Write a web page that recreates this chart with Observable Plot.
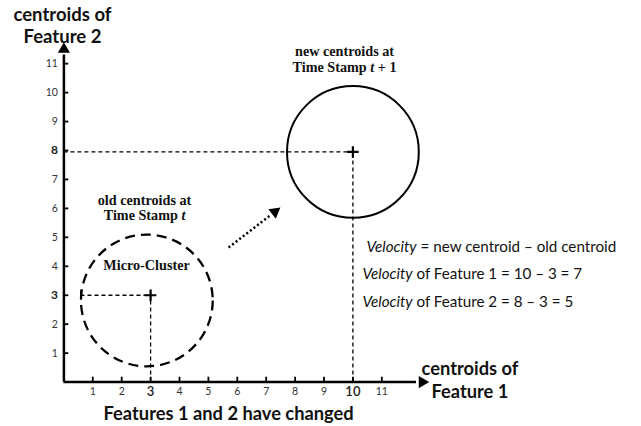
<!DOCTYPE html>
<html>
<head>
<meta charset="utf-8">
<script src="https://cdn.jsdelivr.net/npm/d3@7"></script>
<script src="https://cdn.jsdelivr.net/npm/@observablehq/plot@0.6"></script>
<style>
  html, body { margin: 0; padding: 0; background: #fff; }
</style>
</head>
<body>
<div id="chart"></div>
<script>
// ---- data ----
const xTicks = [1, 2, 3, 4, 5, 6, 7, 8, 9, 10, 11];
const yTicks = [1, 2, 3, 4, 5, 6, 7, 8, 9, 10, 11];
const highlightX = [3, 10];
const highlightY = [3, 8];
const oldCentroid = [{x: 3, y: 3}];
const newCentroid = [{x: 10, y: 7.95}];
const clusterNames = ["old", "new"];
const clusterCx = [2.87, 10];
const clusterCy = [2.82, 7.95];
const clusterRadius = [2.28, 2.28];
const velocityText = [
  "Velocity = new centroid – old centroid",
  "Velocity of Feature 1 = 10 – 3 = 7",
  "Velocity of Feature 2 = 8 – 3 = 5"
];
const velocityX = [10.47, 10.33, 10.33];
const velocityY = [4.66, 3.72, 2.76];
const axisEndX = 12.4;
const axisEndY = 11.5;
const moveFrom = {x: 5.7, y: 4.65};
const moveTo = {x: 7.3, y: 5.88};

// ---- derived tables ----
const clusters = clusterNames.map((n, i) => ({name: n, cx: clusterCx[i], cy: clusterCy[i], radius: clusterRadius[i]}));
const velocity = velocityText.map((t, i) => ({text: t, x: velocityX[i], y: velocityY[i]}));
const xTickData = xTicks.map(v => ({v, hi: highlightX.includes(v)}));
const yTickData = yTicks.map(v => ({v, hi: highlightY.includes(v)}));
const oldLeft = clusterCx[0] - clusterRadius[0];

const SANS = "Lato, 'Open Sans', sans-serif";
const SERIF = "'Liberation Serif', 'DejaVu Serif', serif";
const arrowAngle = Math.atan2((moveTo.x - moveFrom.x) * 28.9, (moveTo.y - moveFrom.y) * 28.95) * 180 / Math.PI;

const plot = Plot.plot({
  width: 641,
  height: 426,
  x: {domain: [0, 20], range: [63.4, 63.4 + 20 * 28.9], axis: null},
  y: {domain: [0, 13], range: [381.6, 381.6 - 13 * 28.95], axis: null},
  r: {type: "linear", domain: [0, 1], range: [0, 28.9]},
  style: {background: "#fff", overflow: "visible"},
  marks: [
    // dashed guide lines
    Plot.ruleY(newCentroid, {y: "y", x1: 0, x2: "x", stroke: "#000", strokeWidth: 1.3, strokeDasharray: "4,3"}),
    Plot.ruleX(newCentroid, {x: "x", y1: 0, y2: "y", stroke: "#000", strokeWidth: 1.3, strokeDasharray: "4,3"}),
    Plot.ruleY(oldCentroid, {y: "y", x1: oldLeft, x2: "x", stroke: "#000", strokeWidth: 1.3, strokeDasharray: "4,3"}),
    Plot.ruleX(oldCentroid, {x: "x", y1: 0, y2: "y", stroke: "#000", strokeWidth: 1.3, strokeDasharray: "4,3"}),
    Plot.ruleX(oldCentroid, {x: oldLeft, y1: d => d.y - 0.17, y2: d => d.y + 0.17, stroke: "#000", strokeWidth: 1.6}),
    // cluster circles
    Plot.dot(clusters.filter(d => d.name === "old"), {x: "cx", y: "cy", r: "radius", stroke: "#000", strokeWidth: 2.3, strokeDasharray: "10,6", fill: "none"}),
    Plot.dot(clusters.filter(d => d.name === "new"), {x: "cx", y: "cy", r: "radius", stroke: "#000", strokeWidth: 2, fill: "none"}),
    // centroid crosses
    Plot.dot(oldCentroid.concat(newCentroid), {x: "x", y: "y", symbol: "plus", r: 3.8, stroke: "#000", strokeWidth: 2.2}),
    // axes
    Plot.ruleY([0], {x1: 0, x2: axisEndX - 0.2, stroke: "#000", strokeWidth: 2.5}),
    Plot.ruleX([0], {y1: 0, y2: axisEndY - 0.2, stroke: "#000", strokeWidth: 2.5}),
    Plot.dot([{x: axisEndX, y: 0}], {x: "x", y: "y", symbol: "triangle", r: 4.5, fill: "#000", rotate: 90}),
    Plot.dot([{x: 0, y: axisEndY}], {x: "x", y: "y", symbol: "triangle", r: 4.5, fill: "#000"}),
    // ticks (inward)
    Plot.ruleX(xTickData, {x: "v", y1: 0, y2: 0.17, stroke: "#000", strokeWidth: 1.8}),
    Plot.ruleY(yTickData, {y: "v", x1: 0, x2: 0.17, stroke: "#000", strokeWidth: 1.8}),
    // tick labels
    Plot.text(xTickData.filter(d => !d.hi), {x: "v", y: 0, text: d => String(d.v), dy: 10, fontSize: 10.5, fill: "#333", fontFamily: SANS}),
    Plot.text(xTickData.filter(d => d.hi), {x: "v", y: 0, text: d => String(d.v), dy: 10, fontSize: 13, fontWeight: 600, fill: "#222", fontFamily: SANS}),
    Plot.text(yTickData.filter(d => !d.hi), {x: 0, y: "v", text: d => String(d.v), dx: -6, textAnchor: "end", fontSize: 10.5, fill: "#333", fontFamily: SANS}),
    Plot.text(yTickData.filter(d => d.hi), {x: 0, y: "v", text: d => String(d.v), dx: -6, textAnchor: "end", fontSize: 12, fontWeight: 700, fill: "#222", fontFamily: SANS}),
    // movement arrow
    Plot.link([{x1: moveFrom.x, y1: moveFrom.y, x2: moveTo.x - 0.12, y2: moveTo.y - 0.09}], {x1: "x1", y1: "y1", x2: "x2", y2: "y2", stroke: "#000", strokeWidth: 2.5, strokeDasharray: "2,2.5"}),
    Plot.dot([moveTo], {x: "x", y: "y", symbol: "triangle", r: 4.5, fill: "#000", rotate: arrowAngle}),
    // axis titles
    Plot.text(["centroids of\nFeature 2"], {x: -0.05, y: 12.33, fontSize: 18.5, fontWeight: "bold", fontFamily: SANS, fill: "#111", lineHeight: 1.2}),
    Plot.text(["centroids of\nFeature 1"], {x: 14.05, y: 0.1, fontSize: 18.3, fontWeight: "bold", fontFamily: SANS, fill: "#111", lineHeight: 1.22}),
    Plot.text(["Features 1 and 2 have changed"], {x: 5.7, y: -1.1, fontSize: 18.3, fontWeight: "bold", fontFamily: SANS, fill: "#111"}),
    // annotations
    Plot.text(["new centroids at\nTime Stamp t + 1"], {x: 9.71, y: 11.17, fontSize: 14.2, fontWeight: "bold", fontFamily: SERIF, fill: "#111", lineHeight: 1.15}),
    Plot.text(["old centroids at\nTime Stamp t"], {x: 2.79, y: 6.02, fontSize: 14.2, fontWeight: "bold", fontFamily: SERIF, fill: "#111", lineHeight: 1.05}),
    Plot.text(["Micro-Cluster"], {x: 2.86, y: 4.04, fontSize: 14.2, fontWeight: "bold", fontFamily: SERIF, fill: "#111"}),
    Plot.text(velocity, {x: "x", y: "y", text: "text", textAnchor: "start", fontSize: 15.2, fontFamily: SANS, fill: "#111"})
  ]
});

// italicize "Velocity" and "t"
d3.select(plot).selectAll("text, tspan").each(function() {
  const el = this;
  if (el.childElementCount > 0) return;
  const s = el.textContent;
  if (s.startsWith("Velocity")) {
    el.textContent = "";
    d3.select(el).append("tspan").attr("font-style", "italic").text("Velocity");
    d3.select(el).append("tspan").text(s.slice("Velocity".length));
  } else if (s.startsWith("Time Stamp t")) {
    el.textContent = "";
    d3.select(el).append("tspan").text("Time Stamp ");
    d3.select(el).append("tspan").attr("font-style", "italic").text("t");
    d3.select(el).append("tspan").text(s.slice("Time Stamp t".length));
  }
});

document.getElementById("chart").appendChild(plot);
</script>
</body>
</html>
